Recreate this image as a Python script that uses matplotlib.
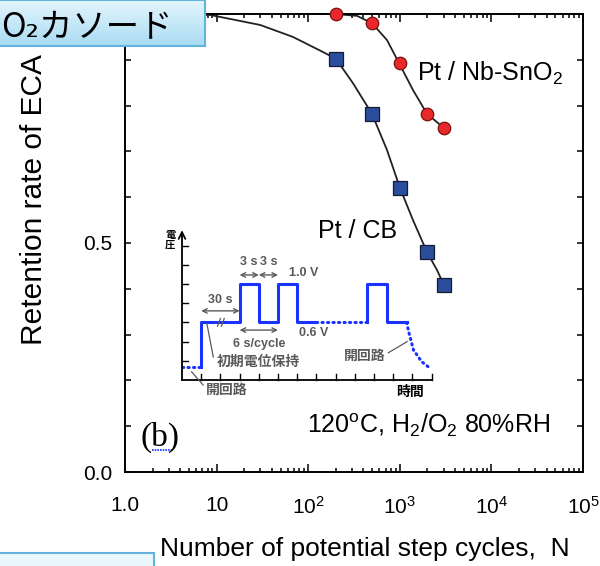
import numpy as np
import matplotlib
matplotlib.use("Agg")
import matplotlib.pyplot as plt

plt.rcParams['font.family'] = ['Liberation Sans', 'Noto Sans CJK JP', 'DejaVu Sans']
plt.rcParams['mathtext.fontset'] = 'custom'
plt.rcParams['mathtext.rm'] = 'Liberation Sans'
plt.rcParams['mathtext.it'] = 'Liberation Sans:italic'

# measured points (N cycles, ECA retention)
cb_n = [200, 500, 1000, 2000, 3000]
cb_v = [0.902, 0.782, 0.620, 0.480, 0.408]
nb_n = [200, 500, 1000, 2000, 3000]
nb_v = [1.0, 0.980, 0.893, 0.782, 0.751]

# fitted curves
cb_fit_n = [1, 8.5, 30, 68, 145, 201, 308, 497, 725, 1005, 1393, 1982, 2547, 3038]
cb_fit_v = [1.0, 0.998, 0.976, 0.950, 0.917, 0.902, 0.849, 0.782, 0.703, 0.620, 0.550, 0.480, 0.441, 0.408]
nb_fit_n = [81, 196, 341, 497, 725, 980, 1393, 1982, 3038]
nb_fit_v = [1.0, 1.0, 0.996, 0.980, 0.943, 0.893, 0.834, 0.782, 0.751]

xtick_vals = [1, 10, 100, 1e3, 1e4, 1e5]
xtick_labels = ['1.0', '10', r'10$^\mathregular{2}$', r'10$^\mathregular{3}$',
                r'10$^\mathregular{4}$', r'10$^\mathregular{5}$']
ytick_vals = [0.0, 0.1, 0.2, 0.3, 0.4, 0.5, 0.6, 0.7, 0.8, 0.9, 1.0]
ytick_labels = ['0.0', '', '', '', '', '0.5', '', '', '', '', '']

# inset waveform (time units, potential units)
ocv_t = [0, 1]
ocv_v = [0.69, 0.69]
wave1_t = [1, 1, 3, 3, 4, 4, 5, 5, 6, 6, 7]
wave1_v = [0.69, 3, 3, 5, 5, 3, 3, 5, 5, 3, 3]
gap_t = [7, 9.65]
gap_v = [3, 3]
wave2_t = [9.65, 9.65, 10.7, 10.7, 11.7]
wave2_v = [3, 5, 5, 3, 3]
decay_t = [11.7, 11.83, 12.06, 12.49, 12.93]
decay_v = [3, 2.43, 1.56, 0.95, 0.61]

W, H = 600, 566
fig = plt.figure(figsize=(6, 5.66), dpi=100)
ax = fig.add_axes([125 / W, 1 - 472 / H, 458 / W, 458 / H])
ax.set_xscale('log')
ax.plot(cb_fit_n, cb_fit_v, color='#222222', lw=1.3, zorder=2)
ax.plot(nb_fit_n, nb_fit_v, color='#222222', lw=1.3, zorder=2)
ax.plot(cb_n, cb_v, 's', ms=9.5, mfc='#2a4d9c', mec='#151a30', mew=0.9, zorder=3, clip_on=False)
ax.plot(nb_n, nb_v, 'o', ms=9, mfc='#e8282a', mec='#7a1010', mew=0.9, zorder=3, clip_on=False)
ax.set_xlim(1, 1e5)
ax.set_ylim(0, 1.0)
ax.set_xticks(xtick_vals)
ax.set_xticklabels(xtick_labels)
ax.set_yticks(ytick_vals)
ax.set_yticklabels(ytick_labels)
ax.tick_params(which='both', direction='in', top=True, right=True, labelsize=15, width=1.1)
ax.tick_params(axis='x', which='major', length=6, pad=17)
ax.tick_params(axis='x', which='minor', length=3)
ax.tick_params(axis='y', which='major', length=4.5, pad=9)
for s in ax.spines.values():
    s.set_linewidth(1.4)

ax.text(1540, 0.855, 'Pt / Nb-SnO$_\\mathregular{2}$', fontsize=18)
ax.text(128, 0.51, 'Pt / CB', fontsize=18)
ax.text(1.47, 0.057, '(b)', fontsize=24, family='Liberation Serif')
ax.plot([1.97, 3.26], [0.048, 0.048], color='#1030ff', lw=1.2, ls=(0, (1, 0.6)))
fig.text(307 / W, 1 - 433 / H, r'120$^\mathregular{o}$C, H$_\mathregular{2}$/O$_\mathregular{2}$ 80%RH', fontsize=18)

fig.text(160 / W, 1 - 549 / H, 'Number of potential step cycles,  N', fontsize=19, va='center')
fig.text(34 / W, 1 - 200 / H, 'Retention rate of ECA', fontsize=21.5, rotation=90, va='center', ha='center')

# inset: potential step protocol
axi = fig.add_axes([170 / W, 1 - 400 / H, 270 / W, 175 / H])
axi.set_xlim(-0.625, 13.44)
axi.set_ylim(-1.04, 8.07)
axi.axis('off')
axi.patch.set_alpha(0)
axi.plot([0, 13], [0, 0], color='k', lw=1.3)
axi.annotate('', xy=(0, 7.8), xytext=(0, 0),
             arrowprops=dict(arrowstyle='->', color='k', lw=1.3, mutation_scale=12, shrinkA=0, shrinkB=0))
for i in range(1, 14):
    axi.plot([i, i], [0, 0.3], color='k', lw=1)
for j in range(1, 8):
    axi.plot([0, 0.3], [j, j], color='k', lw=1)

blue = '#1a32ff'
dots = dict(color=blue, lw=2.2, ls=(0, (0.4, 1.4)), dash_capstyle='round')
axi.plot(ocv_t, ocv_v, **dots)
axi.plot(wave1_t, wave1_v, color=blue, lw=2.2)
axi.plot(gap_t, gap_v, **dots)
axi.plot(wave2_t, wave2_v, color=blue, lw=2.2)
axi.plot(decay_t, decay_v, **dots)

gray = '#5a5a5a'
arr = dict(arrowstyle='<->', color=gray, lw=1.0, mutation_scale=8, shrinkA=0, shrinkB=0)
txt = dict(color=gray, fontsize=9, fontweight='bold', ha='center', va='center',
           family=['Liberation Sans', 'Noto Sans CJK JP'])
jtxt = dict(txt, fontsize=10)
axi.annotate('', xy=(1, 3.6), xytext=(3, 3.6), arrowprops=arr)
axi.text(2, 4.15, '30 s', **txt)
axi.annotate('', xy=(3, 5.47), xytext=(4, 5.47), arrowprops=arr)
axi.annotate('', xy=(4, 5.47), xytext=(5, 5.47), arrowprops=arr)
axi.text(3.5, 6.15, '3 s', **txt)
axi.text(4.5, 6.15, '3 s', **txt)
axi.text(6.35, 5.55, '1.0 V', **txt)
axi.text(6.85, 2.45, '0.6 V', **txt)
axi.annotate('', xy=(3, 2.6), xytext=(5, 2.6), arrowprops=arr)
axi.text(4, 1.85, '6 s/cycle', **txt)
axi.plot([1.85, 2.0], [2.8, 3.2], color=gray, lw=0.9)
axi.plot([2.05, 2.2], [2.8, 3.2], color=gray, lw=0.9)
axi.plot([1.3, 1.63], [2.92, 1.2], color=gray, lw=0.9)
axi.text(4.0, 0.95, '初期電位保持', **jtxt)
axi.plot([0.5, 1.1], [0.43, -0.26], color=gray, lw=0.9)
axi.text(2.35, -0.5, '開回路', **jtxt)
axi.plot([10.75, 11.73], [1.42, 2.0], color=gray, lw=0.9)
axi.text(9.5, 1.25, '開回路', **jtxt)
axi.text(11.9, -0.62, '時間', color='k', fontsize=10, fontweight='bold', ha='center', va='center',
         family='Noto Sans CJK JP')
axi.text(-0.6, 7.3, '電\n圧', color='k', fontsize=7.5, fontweight='bold', ha='center', va='center',
         family='Noto Sans CJK JP', linespacing=0.95)

# slide title box (top left) and a partial box at the bottom
tb = fig.add_axes([-0.01, 1 - 46 / H, 211 / W, 46 / H])
grad = np.linspace(0, 1, 50).reshape(-1, 1)
tb.imshow(grad, aspect='auto', cmap=matplotlib.colors.LinearSegmentedColormap.from_list('b', ['#e4f5fc', '#a9dcf3']),
          extent=[0, 1, 0, 1], origin='upper')
tb.set_xticks([])
tb.set_yticks([])
for s in tb.spines.values():
    s.set_color('#62b4dc')
    s.set_linewidth(1.5)
tb.text(0.035, 0.42, 'O₂カソード', fontsize=24, va='center', ha='left',
        family=['Noto Sans CJK JP', 'DejaVu Sans'], transform=tb.transAxes)

bb = fig.add_axes([-0.01, -0.02, 160 / W, 24 / H])
bb.set_facecolor('#eaf8fd')
bb.set_xticks([])
bb.set_yticks([])
for s in bb.spines.values():
    s.set_color('#62b4dc')
    s.set_linewidth(1.5)

fig.savefig('out.png', dpi=100)
